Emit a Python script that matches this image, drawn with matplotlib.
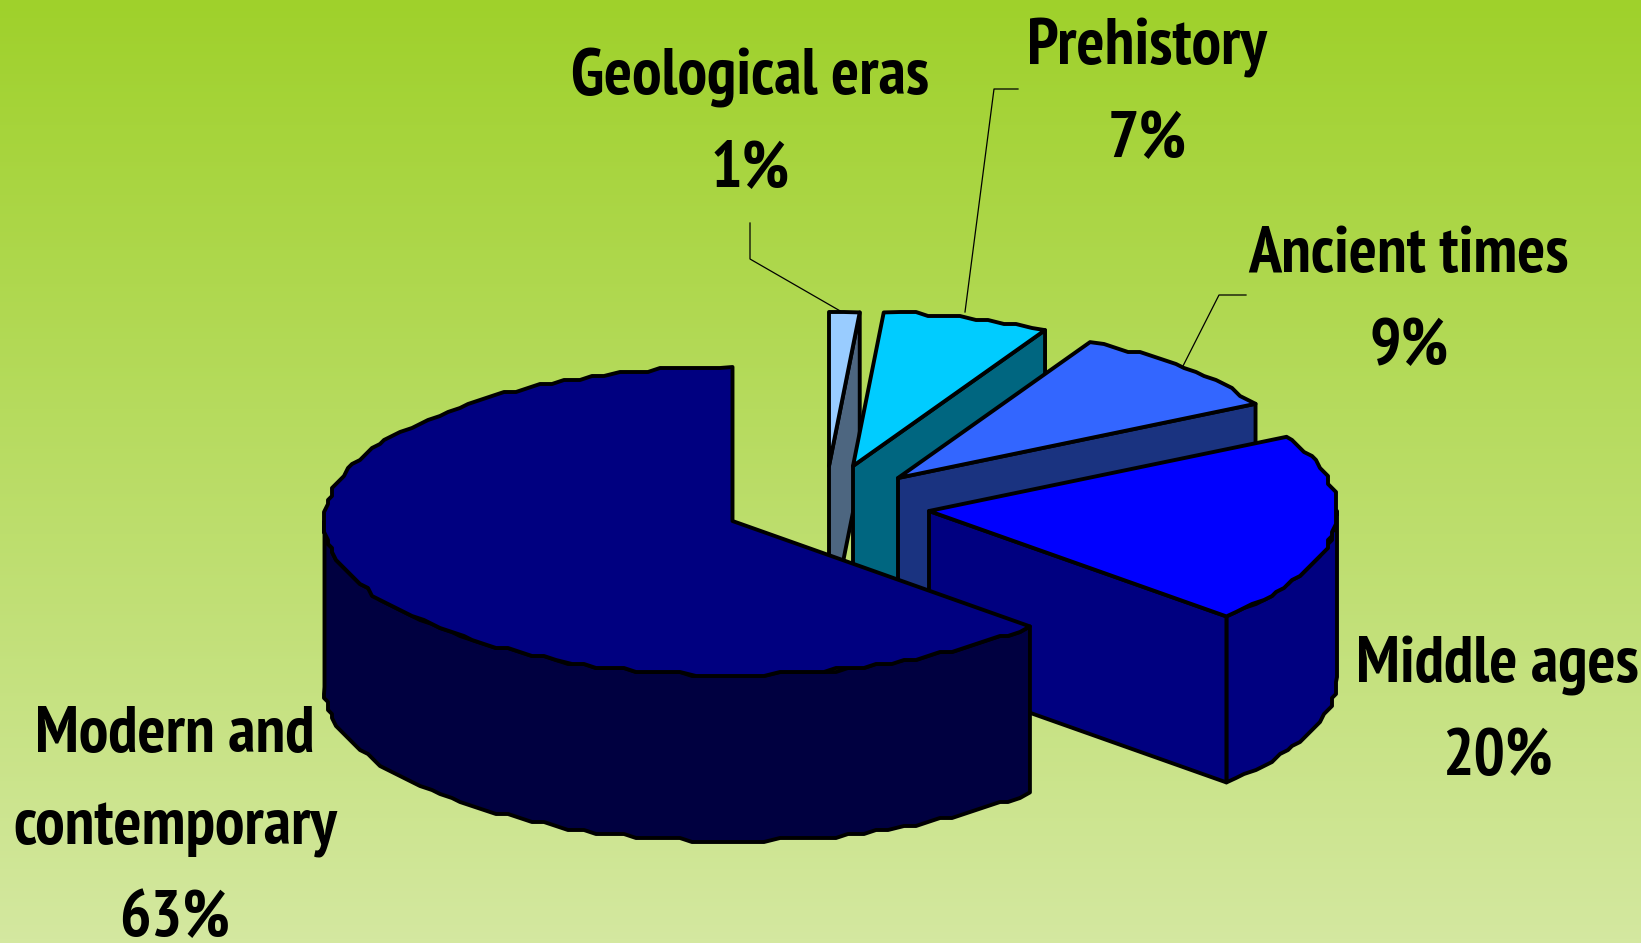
import numpy as np
import matplotlib.pyplot as plt
from matplotlib.colors import LinearSegmentedColormap

labels = ['Geological eras', 'Prehistory', 'Ancient times', 'Middle ages', 'Modern and\ncontemporary']
values = [1.2, 6.6, 9.2, 20, 63]
top_colors = ['#99CCFF', '#00CCFF', '#3366FF', '#0000FF', '#000080']
side_colors = ['#4D6680', '#006680', '#1A3380', '#000080', '#000040']

# layout in picture pixels
centers = [(829, 466), (853, 466), (898, 478), (929, 511), (732.5, 521)]
label_pos = [(750, 94), (1147, 65), (1409, 272), (1497, 682), (175, 752)]
line_step = 92
leaders = [[(750, 223), (750, 259), (842, 312)],
           [(1018, 89), (994, 89), (965, 312)],
           [(1246, 295), (1219, 295), (1183, 366)]]
rx, ry, depth = 408, 154, 166
edge = 2.8

plt.rcParams['font.family'] = ['PT Sans Narrow', 'Liberation Sans']

fig = plt.figure(figsize=(16.41, 9.43), dpi=100)
ax = fig.add_axes([0, 0, 1, 1])
cmap = LinearSegmentedColormap.from_list('bg', ['#9FD12B', '#D4E8A0'])
ax.imshow(np.linspace(0, 1, 256).reshape(-1, 1), cmap=cmap, extent=(0, 1641, 943, 0), aspect='auto', zorder=0)
ax.set_xlim(0, 1641)
ax.set_ylim(943, 0)
ax.axis('off')


def rim(cx, cy, a1, a2):
    # outer arc, clockwise from 12 o'clock, a bit stepped like the original
    n = max(2, int((a2 - a1) / 2) + 1)
    t = np.radians(np.linspace(a1, a2, n))
    x = cx + rx * np.sin(t)
    y = cy - ry * np.cos(t)
    x[1:-1] = np.round(x[1:-1] / 4) * 4
    y[1:-1] = np.round(y[1:-1] / 4) * 4
    return x, y


def face(xs, ys, color, z):
    ax.fill(xs, ys, facecolor=color, edgecolor='black', lw=edge, joinstyle='round', zorder=z)


for i, v in enumerate(leaders):
    ax.plot([p[0] for p in v], [p[1] for p in v], color='black', lw=0.9, zorder=1)

start = 0
for i in range(len(values)):
    a1 = start
    a2 = start + values[i] * 3.6
    start = a2
    cx, cy = centers[i]
    z = 2 + i
    # visible front part of the outer wall
    lo, hi = max(a1, 90), min(a2, 270)
    if lo < hi:
        x, y = rim(cx, cy, lo, hi)
        face(np.r_[x, x[::-1]], np.r_[y, y[::-1] + depth], side_colors[i], z)
    # cut face at the clockwise end
    if a2 < 180:
        ex, ey = rim(cx, cy, a2, a2)
        ex, ey = ex[0], ey[0]
        face([cx, ex, ex, cx], [cy, ey, ey + depth, cy + depth], side_colors[i], z)
    x, y = rim(cx, cy, a1, a2)
    face(np.r_[cx, x], np.r_[cy, y], top_colors[i], z)

for i in range(len(labels)):
    lines = labels[i].split('\n') + ['%.0f%%' % values[i]]
    for j, s in enumerate(lines):
        ax.text(label_pos[i][0], label_pos[i][1] + j * line_step, s, ha='center', va='baseline',
                fontsize=47.5, fontweight='bold', color='black', zorder=10)

fig.savefig('out.png', dpi=100)
